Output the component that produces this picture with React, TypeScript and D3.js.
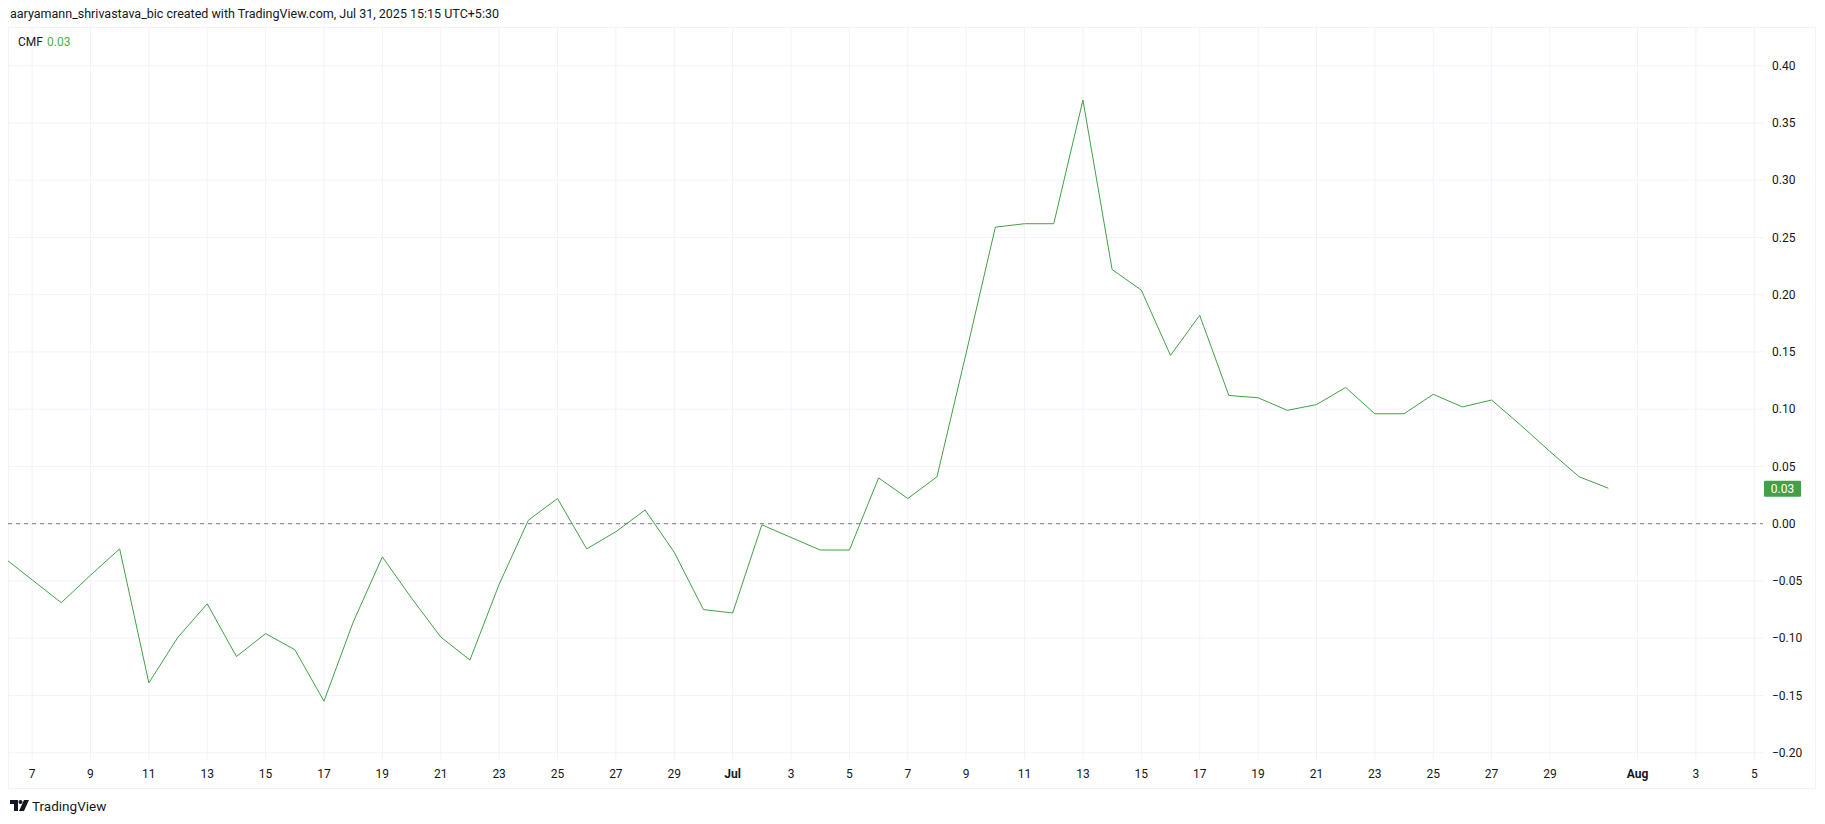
import React from "react";
import * as d3 from "d3";

// ---- data ----
const startDate = "2025-06-06";
const cmfValues: number[] = [
  -0.029, -0.049, -0.069, -0.045, -0.022, -0.139, -0.099, -0.070, -0.116, -0.096,
  -0.110, -0.155, -0.086, -0.029, -0.065, -0.099, -0.119, -0.053, 0.003, 0.022,
  -0.022, -0.007, 0.012, -0.025, -0.075, -0.078, -0.001, -0.012, -0.023, -0.023,
  0.040, 0.022, 0.041, 0.149, 0.259, 0.262, 0.262, 0.370, 0.222, 0.204,
  0.147, 0.182, 0.112, 0.110, 0.099, 0.104, 0.119, 0.096, 0.096, 0.113,
  0.102, 0.108, 0.086, 0.063, 0.041, 0.031,
];
const xTickDates = [
  "2025-06-07", "2025-06-09", "2025-06-11", "2025-06-13", "2025-06-15", "2025-06-17",
  "2025-06-19", "2025-06-21", "2025-06-23", "2025-06-25", "2025-06-27", "2025-06-29",
  "2025-07-01", "2025-07-03", "2025-07-05", "2025-07-07", "2025-07-09", "2025-07-11",
  "2025-07-13", "2025-07-15", "2025-07-17", "2025-07-19", "2025-07-21", "2025-07-23",
  "2025-07-25", "2025-07-27", "2025-07-29", "2025-08-01", "2025-08-03", "2025-08-05",
];
const xTickLabels = [
  "7", "9", "11", "13", "15", "17", "19", "21", "23", "25", "27", "29",
  "Jul", "3", "5", "7", "9", "11", "13", "15", "17", "19", "21", "23",
  "25", "27", "29", "Aug", "3", "5",
];
const yTicks = [-0.2, -0.15, -0.1, -0.05, 0, 0.05, 0.1, 0.15, 0.2, 0.25, 0.3, 0.35, 0.4];
const headerText = "aaryamann_shrivastava_bic created with TradingView.com, Jul 31, 2025 15:15 UTC+5:30";
const indicatorName = "CMF";
const currentValue = cmfValues[cmfValues.length - 1];

const W = 1825;
const H = 824;
const FONT = "Roboto, 'Noto Sans', sans-serif";
const GREEN = "#43a047";
const TEXT = "#131722";
const GRID = "#f0f3fa";

export default function App() {
  const parse = d3.utcParse("%Y-%m-%d");
  const d0 = parse(startDate) as Date;
  const data = cmfValues.map((v, i) => ({ date: d3.utcDay.offset(d0, i), v }));

  const paneLeft = 8;
  const paneTop = 27;
  const plotRight = 1763;
  const plotBottom = 760;
  const frameRight = 1815;
  const frameBottom = 788;

  const x = d3
    .scaleUtc()
    .domain([parse("2025-06-06") as Date, parse("2025-08-05") as Date])
    .range([1754.3 - 60 * 29.19, 1754.3]);
  const y = d3.scaleLinear().domain([-0.2, 0.4]).range([752.7, 65.7]);

  const line = d3
    .line<{ date: Date; v: number }>()
    .x((d) => x(d.date))
    .y((d) => y(d.v));

  const fmt = d3.format(".2f");
  const ticks = xTickDates.map((s, i) => ({ x: x(parse(s) as Date), label: xTickLabels[i] }));

  return (
    <div style={{ position: "fixed", left: 0, top: 0, width: W, height: H, background: "#fff" }}>
      <svg width={W} height={H} style={{ display: "block" }}>
        <defs>
          <clipPath id="plotClip">
            <rect x={paneLeft} y={paneTop} width={plotRight - paneLeft} height={plotBottom - paneTop} />
          </clipPath>
        </defs>
        <rect x={0} y={0} width={W} height={H} fill="#ffffff" />
        <text x={10} y={18} fontFamily={FONT} fontSize={12.5} fill={TEXT}>
          {headerText}
        </text>

        {/* frame */}
        <rect
          x={paneLeft + 0.5}
          y={paneTop + 0.5}
          width={frameRight - paneLeft}
          height={frameBottom - paneTop}
          fill="none"
          stroke="#f0f3fa"
          strokeWidth={1}
        />

        {/* grid */}
        <g clipPath="url(#plotClip)">
          {yTicks.map((t) => (
            <line key={"h" + t} x1={paneLeft} x2={plotRight} y1={y(t)} y2={y(t)} stroke={GRID} strokeWidth={1} />
          ))}
          {ticks.map((t, i) => (
            <line key={"v" + i} x1={t.x} x2={t.x} y1={paneTop} y2={plotBottom} stroke={GRID} strokeWidth={1} />
          ))}
          <line
            x1={paneLeft}
            x2={plotRight}
            y1={y(0)}
            y2={y(0)}
            stroke="#787b86"
            strokeWidth={1}
            strokeDasharray="4 4"
          />
          <path d={line(data) || ""} fill="none" stroke={GREEN} strokeWidth={1} strokeLinejoin="round" />
        </g>

        {/* legend */}
        <text x={18} y={46} fontFamily={FONT} fontSize={12} fill={TEXT}>
          {indicatorName}
        </text>
        <text x={47} y={46} fontFamily={FONT} fontSize={12} fill="#4caf50">
          {fmt(currentValue)}
        </text>

        {/* y axis labels */}
        {yTicks.map((t) => (
          <text
            key={"yl" + t}
            x={1772}
            y={y(t)}
            dy="0.35em"
            fontFamily={FONT}
            fontSize={12}
            fill={TEXT}
          >
            {fmt(t)}
          </text>
        ))}

        {/* current value badge */}
        <rect x={1764} y={y(currentValue) - 7.5} width={37} height={16} rx={1} fill="#43a047" />
        <text
          x={1782.5}
          y={y(currentValue) + 0.5}
          dy="0.35em"
          textAnchor="middle"
          fontFamily={FONT}
          fontSize={12}
          fill="#ffffff"
        >
          {fmt(currentValue)}
        </text>

        {/* x axis labels */}
        {ticks.map((t, i) => (
          <text
            key={"xl" + i}
            x={t.x}
            y={774}
            dy="0.35em"
            textAnchor="middle"
            fontFamily={FONT}
            fontSize={12}
            fontWeight={t.label === "Jul" || t.label === "Aug" ? 700 : 400}
            fill={TEXT}
          >
            {t.label}
          </text>
        ))}

        {/* TradingView logo */}
        <g transform="translate(10,800)" fill={TEXT}>
          <path d="M0 0 H8 V11 H4 V4 H0 Z" />
          <circle cx={10.5} cy={2} r={2} />
          <path d="M14 0 H19 L14 11 H9 Z" />
        </g>
        <text x={32} y={806} dy="0.35em" fontFamily={FONT} fontSize={13.5} fill={TEXT}>
          TradingView
        </text>
      </svg>
    </div>
  );
}
